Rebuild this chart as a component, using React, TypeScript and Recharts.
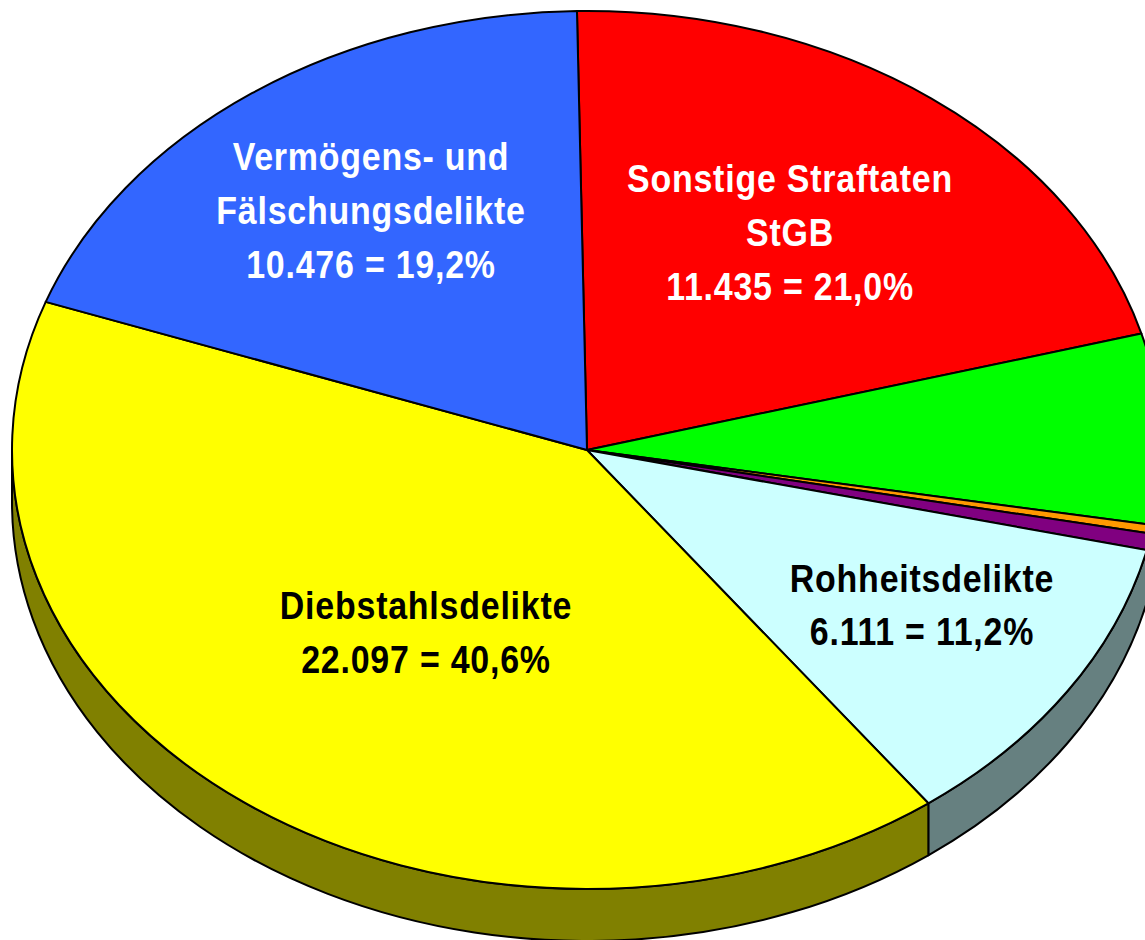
import React from 'react';
import { PieChart, Pie } from 'recharts';

const categories = ['Sonstige Straftaten StGB', 'Straftaten gegen die sexuelle Selbstbestimmung', 'Mord', 'Sonstige', 'Rohheitsdelikte', 'Diebstahlsdelikte', 'Vermögens- und Fälschungsdelikte'];
const values = [11435, 3817, 170, 330, 6111, 22097, 10476];
const topColors = ['#ff0000', '#00ff00', '#ff9900', '#800080', '#ccffff', '#ffff00', '#3366ff'];
const wallColors = ['#800000', '#008000', '#804c00', '#400040', '#668080', '#808000', '#1a3380'];
const labelLines: (string[] | null)[] = [
  ['Sonstige Straftaten', 'StGB', '11.435 = 21,0%'],
  null,
  null,
  null,
  ['Rohheitsdelikte', '6.111 = 11,2%'],
  ['Diebstahlsdelikte', '22.097 = 40,6%'],
  ['Vermögens- und', 'Fälschungsdelikte', '10.476 = 19,2%'],
];
const labelColors = ['#ffffff', '', '', '', '#000000', '#000000', '#ffffff'];

const data = categories.map((name, i) => ({ name, value: values[i], fill: topColors[i], wall: wallColors[i] }));

const W = 1145;
const H = 940;
const CX = 587;
const CY = 450;
const RX = 575;
const RY = 439;
const DEPTH = 52;
const labelAnchors = [
  { x: 790, y: 178 },
  null,
  null,
  null,
  { x: 922, y: 578 },
  { x: 426, y: 605 },
  { x: 371, y: 156 },
];
const labelStep = [54, 0, 0, 0, 53, 54, 54];

const rad = (d: number) => (d * Math.PI) / 180;
const px = (a: number) => CX + RX * Math.cos(rad(a));
const py = (a: number) => CY - RY * Math.sin(rad(a));

function TopSlice(p: any) {
  const a0 = p.startAngle;
  const a1 = p.endAngle;
  const large = Math.abs(a1 - a0) > 180 ? 1 : 0;
  const d = `M${CX},${CY} L${px(a0)},${py(a0)} A${RX},${RY} 0 ${large} 1 ${px(a1)},${py(a1)} Z`;
  return <path d={d} fill={p.fill} stroke="#000" strokeWidth={2} strokeLinejoin="round" />;
}

function WallSlice(p: any) {
  // Angles run clockwise; only the part below the horizon is visible.
  const norm = (a: number) => ((a % 360) + 360) % 360;
  let s = norm(p.startAngle);
  const e = s - (p.startAngle - p.endAngle);
  let from: number;
  let until: number;
  if (s > 180 && s <= 360) {
    from = s;
    until = Math.max(e, 180);
  } else {
    if (e >= 0) return <g />;
    from = 360;
    until = Math.max(e + 360, 180);
  }
  if (from <= until) return <g />;
  const large = from - until > 180 ? 1 : 0;
  const d = `M${px(from)},${py(from)} A${RX},${RY} 0 ${large} 1 ${px(until)},${py(until)} L${px(until)},${py(until) + DEPTH} A${RX},${RY} 0 ${large} 0 ${px(from)},${py(from) + DEPTH} Z`;
  return <path d={d} fill={p.wall} stroke="#000" strokeWidth={2} strokeLinejoin="round" />;
}

function SliceLabel(p: any) {
  const i = p.index;
  const lines = labelLines[i];
  const at = labelAnchors[i];
  if (!lines || !at) return null;
  return (
    <g>
      {lines.map((line, k) => (
        <text
          key={line}
          transform={`translate(${at.x},${at.y + 14 + k * labelStep[i]}) scale(0.87,1)`}
          textAnchor="middle"
          fill={labelColors[i]}
          fontFamily="Liberation Sans, Arial, sans-serif"
          fontWeight="bold"
          fontSize={39}
          letterSpacing={0.9}
        >
          {line}
        </text>
      ))}
    </g>
  );
}

export default function App() {
  return (
    <div style={{ position: 'absolute', left: 0, top: 0, width: W, height: H, overflow: 'hidden', background: '#fff' }}>
      <PieChart width={W} height={H} margin={{ top: 0, right: 0, bottom: 0, left: 0 }}>
        <Pie
          data={data}
          dataKey="value"
          nameKey="name"
          cx={CX}
          cy={CY}
          outerRadius={RX}
          startAngle={91}
          endAngle={-269}
          paddingAngle={0}
          isAnimationActive={false}
          shape={WallSlice}
          label={false}
          labelLine={false}
        />
        <Pie
          data={data}
          dataKey="value"
          nameKey="name"
          cx={CX}
          cy={CY}
          outerRadius={RX}
          startAngle={91}
          endAngle={-269}
          paddingAngle={0}
          isAnimationActive={false}
          shape={TopSlice}
          label={SliceLabel}
          labelLine={false}
        />
      </PieChart>
    </div>
  );
}
